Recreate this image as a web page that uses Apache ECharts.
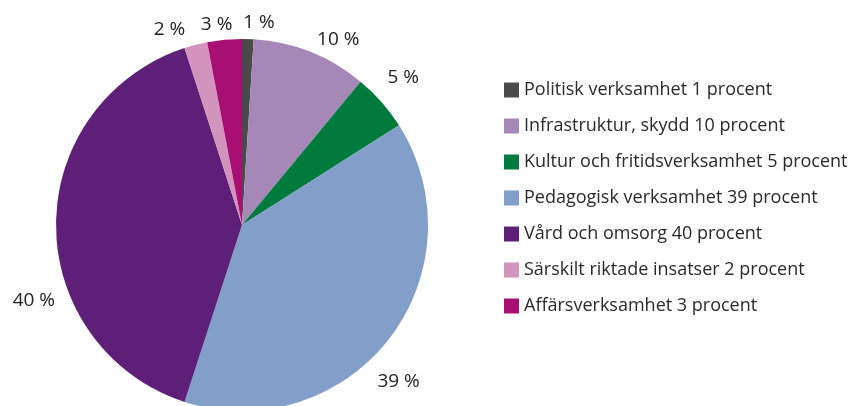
<!DOCTYPE html>
<html style="height: 100%">
<head>
    <meta charset="utf-8">
</head>
<body style="height: 100%; margin: 0; background: #fff">
<div id="container" style="width: 865px; height: 406px"></div>
<script src="https://cdn.jsdelivr.net/npm/echarts@6/dist/echarts.min.js"></script>
<script type="text/javascript">
    const names = ['Politisk verksamhet', 'Infrastruktur, skydd', 'Kultur och fritidsverksamhet',
        'Pedagogisk verksamhet', 'Vård och omsorg', 'Särskilt riktade insatser', 'Affärsverksamhet'];
    const values = [1, 10, 5, 39, 40, 2, 3];
    const colors = ['#4a4a4a', '#a688b8', '#007a3d', '#819fc9', '#5e1f78', '#d293bd', '#a70f73'];

    var myChart = echarts.init(document.getElementById('container'));
    const data = [];
    for (let i = 0; i < names.length; i++) {
        data.push({
            name: names[i] + ' ' + values[i] + ' procent',
            value: values[i],
            itemStyle: {color: colors[i]}
        });
    }

    // nudge labels to where the original (best fit) placed them
    const nudge = [[-7, -5], [-14, -9], [-3, -16], [-23, 35], [11, 76], [34, -19], [11, -3]];

    var option = {
        animation: false,
        legend: {
            orient: 'vertical',
            left: 499,
            top: 76,
            itemWidth: 15,
            itemHeight: 15,
            itemGap: 18,
            icon: 'rect',
            textStyle: {fontSize: 18, lineHeight: 18, color: '#2a2a2a', fontFamily: 'Open Sans'},
            selectedMode: false
        },
        series: [{
            type: 'pie',
            center: [242, 225],
            radius: [0, 186],
            startAngle: 90,
            data: data,
            label: {
                position: 'outside',
                formatter: p => p.value + ' %',
                fontSize: 19,
                color: '#222',
                fontFamily: 'Open Sans',
                overflow: 'none',
                distanceToLabelLine: 2
            },
            labelLine: {show: false, length: 12, length2: 0},
            labelLayout: p => ({dx: nudge[p.dataIndex][0], dy: nudge[p.dataIndex][1]}),
            itemStyle: {borderWidth: 0}
        }]
    };
    myChart.setOption(option);
</script>
</body>
</html>
